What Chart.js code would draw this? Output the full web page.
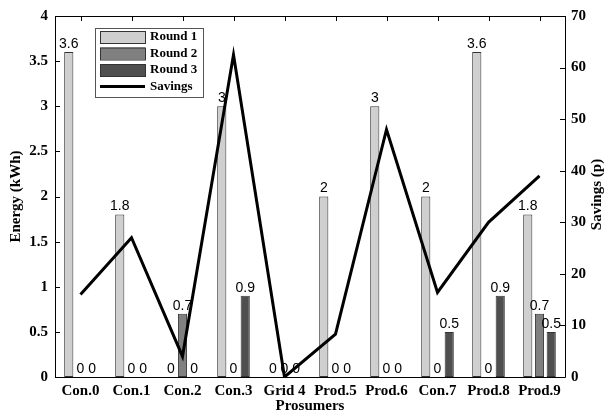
<!DOCTYPE html>
<html>
<head>
<meta charset="utf-8">
<script src="https://cdn.jsdelivr.net/npm/chart.js@4.4.0/dist/chart.umd.min.js"></script>
<style>
	html, body { margin: 0; padding: 0; background: #fff; }
	#wrap { width: 606px; height: 416px; }
</style>
</head>
<body>
<div id="wrap"><canvas id="energy"></canvas></div>
<script>
var prosumers = ['Con.0', 'Con.1', 'Con.2', 'Con.3', 'Grid 4', 'Prod.5', 'Prod.6', 'Con.7', 'Prod.8', 'Prod.9'];
var round1 = [3.6, 1.8, 0, 3, 0, 2, 3, 2, 3.6, 1.8];
var round2 = [0, 0, 0.7, 0, 0, 0, 0, 0, 0, 0.7];
var round3 = [0, 0, 0, 0.9, 0, 0, 0, 0.5, 0.9, 0.5];
var savings = [16, 27, 4, 62.5, 0, 8.3, 48, 16.4, 30, 39];

var serif = '"Liberation Serif", "Times New Roman", serif';
var sans = '"Liberation Sans", Arial, sans-serif';

// value labels above the bars, ticks pointing inwards, frame, legend, right title
var extras = {
	id: 'extras',
	afterDatasetsDraw: function (chart) {
		var ctx = chart.ctx;
		ctx.save();
		ctx.fillStyle = '#000';
		ctx.font = '14px ' + sans;
		ctx.textAlign = 'center';
		ctx.textBaseline = 'bottom';
		for (var d = 0; d < 3; d++) {
			var meta = chart.getDatasetMeta(d);
			var vals = chart.data.datasets[d].data;
			meta.data.forEach(function (bar, i) {
				ctx.fillText(String(vals[i]), bar.x, bar.y - 1);
			});
		}
		ctx.restore();
	},
	afterDraw: function (chart) {
		var ctx = chart.ctx;
		var a = chart.chartArea;
		var x = chart.scales.x, y = chart.scales.y, y1 = chart.scales.y1;
		ctx.save();
		ctx.strokeStyle = '#000';
		ctx.lineWidth = 1;
		ctx.beginPath();
		// frame
		ctx.moveTo(a.left + 0.5, a.top + 0.5);
		ctx.lineTo(a.right + 0.5, a.top + 0.5);
		ctx.moveTo(a.left + 0.5, a.top);
		ctx.lineTo(a.left + 0.5, a.bottom + 0.5);
		ctx.lineTo(a.right + 0.5, a.bottom + 0.5);
		ctx.moveTo(a.right + 0.5, a.top);
		ctx.lineTo(a.right + 0.5, a.bottom + 0.5);
		y.ticks.forEach(function (t) {
			var p = Math.round(y.getPixelForValue(t.value)) + 0.5;
			ctx.moveTo(a.left, p);
			ctx.lineTo(a.left + 5, p);
		});
		y1.ticks.forEach(function (t) {
			var p = Math.round(y1.getPixelForValue(t.value)) + 0.5;
			ctx.moveTo(a.right, p);
			ctx.lineTo(a.right - 5, p);
		});
		x.ticks.forEach(function (t, i) {
			var p = Math.round(x.getPixelForTick(i)) + 0.5;
			ctx.moveTo(p, a.top);
			ctx.lineTo(p, a.top + 5);
		});
		ctx.stroke();

		// right axis title, reading upwards
		ctx.save();
		ctx.translate(597, (a.top + a.bottom) / 2 - 2);
		ctx.rotate(-Math.PI / 2);
		ctx.font = 'bold 15px ' + serif;
		ctx.textAlign = 'center';
		ctx.textBaseline = 'middle';
		ctx.fillStyle = '#000';
		ctx.fillText('Savings (p)', 0, 0);
		ctx.restore();

		// legend
		var lx = a.left + 40, ly = a.top + 12, lw = 108, lh = 69;
		ctx.fillStyle = '#fff';
		ctx.fillRect(lx, ly, lw, lh);
		ctx.strokeStyle = '#555';
		ctx.strokeRect(lx + 0.5, ly + 0.5, lw, lh);
		var items = chart.data.datasets;
		ctx.font = 'bold 13px ' + serif;
		ctx.textAlign = 'left';
		ctx.textBaseline = 'middle';
		items.forEach(function (ds, i) {
			var cy = ly + 9 + i * 16.5;
			if (ds.type === 'line') {
				ctx.strokeStyle = '#000';
				ctx.lineWidth = 3;
				ctx.beginPath();
				ctx.moveTo(lx + 5, cy);
				ctx.lineTo(lx + 50, cy);
				ctx.stroke();
			} else {
				ctx.fillStyle = ds.backgroundColor;
				ctx.fillRect(lx + 5, cy - 6, 45, 12);
				ctx.strokeStyle = '#333';
				ctx.lineWidth = 1;
				ctx.strokeRect(lx + 5.5, cy - 5.5, 45, 12);
			}
			ctx.fillStyle = '#000';
			ctx.fillText(ds.label, lx + 55, cy);
		});
		ctx.restore();
	}
};

window.onload = function () {
	var ctx = document.getElementById('energy').getContext('2d');

	var barCommon = {
		type: 'bar',
		yAxisID: 'y',
		borderColor: '#333',
		borderWidth: 1,
		borderSkipped: false,
		categoryPercentage: 0.69,
		barPercentage: 0.78,
		order: 1
	};

	var tickFont = { family: serif, weight: 'bold', size: 15 };

	new Chart(ctx, {
		data: {
			labels: prosumers,
			datasets: [
				Object.assign({}, barCommon, { label: 'Round 1', data: round1, backgroundColor: '#cfcfcf' }),
				Object.assign({}, barCommon, { label: 'Round 2', data: round2, backgroundColor: '#808080' }),
				Object.assign({}, barCommon, { label: 'Round 3', data: round3, backgroundColor: '#4f4f4f' }),
				{
					type: 'line',
					label: 'Savings',
					data: savings,
					yAxisID: 'y1',
					borderColor: '#000',
					borderWidth: 3,
					pointRadius: 0,
					tension: 0,
					order: 0
				}
			]
		},
		options: {
			responsive: true,
			maintainAspectRatio: false,
			animation: false,
			layout: { padding: { top: 15, left: 0, right: 0, bottom: 0 } },
			plugins: {
				legend: { display: false },
				tooltip: { enabled: false }
			},
			scales: {
				x: {
					grid: { display: false, drawTicks: false },
					border: { display: false },
					ticks: { color: '#000', font: tickFont, padding: 5, maxRotation: 0 },
					title: { display: true, text: 'Prosumers', color: '#000', font: tickFont, padding: { top: 0, bottom: 1 } },
					afterFit: function (s) { s.height = 39; }
				},
				y: {
					position: 'left',
					min: 0,
					max: 4,
					grid: { display: false, drawTicks: false },
					border: { display: false },
					ticks: {
						stepSize: 0.5, color: '#000', font: tickFont, padding: 7,
						callback: function (v) { return String(v); }
					},
					title: { display: true, text: 'Energy (kWh)', color: '#000', font: tickFont, padding: { top: 7, bottom: 4 } },
					afterFit: function (s) { s.width = 55; }
				},
				y1: {
					position: 'right',
					min: 0,
					max: 70,
					grid: { display: false, drawTicks: false },
					border: { display: false },
					ticks: { stepSize: 10, color: '#000', font: tickFont, padding: 6 },
					afterFit: function (s) { s.width = 41; }
				}
			}
		},
		plugins: [extras]
	});
};
</script>
</body>
</html>
